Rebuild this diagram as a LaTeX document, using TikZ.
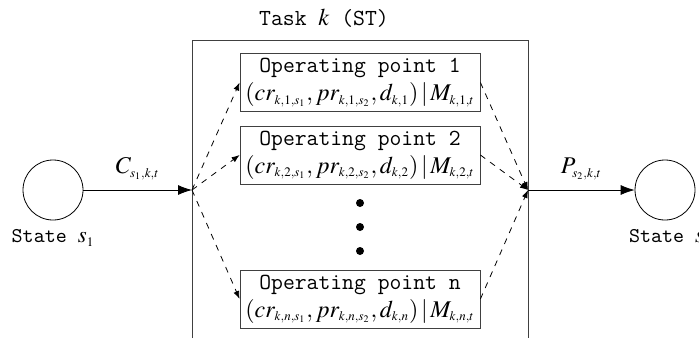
\documentclass[tikz,border=0pt]{standalone}
\usepackage{mathptmx}
\usepackage{fontspec}
\usetikzlibrary{arrows.meta, positioning, calc}
\DeclareMathSizes{11.5}{12}{6.5}{5}
\DeclareMathSizes{10.5}{11.5}{6.5}{5}

\tikzset{
  statecirc/.style={draw, circle, minimum size=30pt, inner sep=0pt},
  statelab/.style={font=\ttfamily\fontsize{10.5}{12}\selectfont},
  opbox/.style={draw=black!75, minimum width=120pt, minimum height=29pt, inner sep=1pt, align=center},
  fanarrow/.style={dashed, -{Latex[length=4pt, width=3pt]}},
  mainarrow/.style={-{Latex[length=7pt, width=5pt]}},
  opdot/.style={fill, circle, minimum size=4pt, inner sep=0pt}
}

\begin{document}
\begin{tikzpicture}[x=0.5pt, y=-0.5pt, font=\ttfamily\fontsize{11.5}{14}\selectfont]
  \useasboundingbox (0,0) rectangle (699,338);

  % states
  \node[statecirc] (s1) at (53,190) {};
  \node[statelab] (s1lab) at (53,238) {State $s_1$};
  \node[statecirc] (s2) at (665,190) {};
  \node[statelab, anchor=west] (s2lab) at (622,238) {State $s_2$};

  % task box (open at the bottom)
  \draw[black!75] (192,338) -- (192,40) -- (528,40) -- (528,338);
  \node (title) at (324,18) {Task $k$ (ST)};
  \coordinate (fanin) at (192,190);
  \coordinate (fanout) at (528,190);

  % operating points
  \node[opbox] (op1) at (360,82.5) {Operating point 1\\$(cr_{k,1,s_1}, pr_{k,1,s_2}, d_{k,1})\,|\,M_{k,1,t}$};
  \node[opbox] (op2) at (360,155) {Operating point 2\\$(cr_{k,2,s_1}, pr_{k,2,s_2}, d_{k,2})\,|\,M_{k,2,t}$};
  \node[opbox] (opn) at (360,299) {Operating point n\\$(cr_{k,n,s_1}, pr_{k,n,s_2}, d_{k,n})\,|\,M_{k,n,t}$};
  \foreach \y/\name in {203/d1, 227/d2, 251/d3} {
    \node[opdot] (\name) at (360,\y) {};
  }

  % flows
  \draw[mainarrow] (s1) -- (fanin) node[midway, above=1.5pt] {$C_{s_1,k,t}$};
  \draw[mainarrow] (fanout) -- (s2) node[midway, above=1.5pt] {$P_{s_2,k,t}$};
  \foreach \op in {op1, op2, opn} {
    \draw[fanarrow] (fanin) -- (\op.west);
    \draw[fanarrow] (\op.east) -- (fanout);
  }
\end{tikzpicture}
\end{document}
